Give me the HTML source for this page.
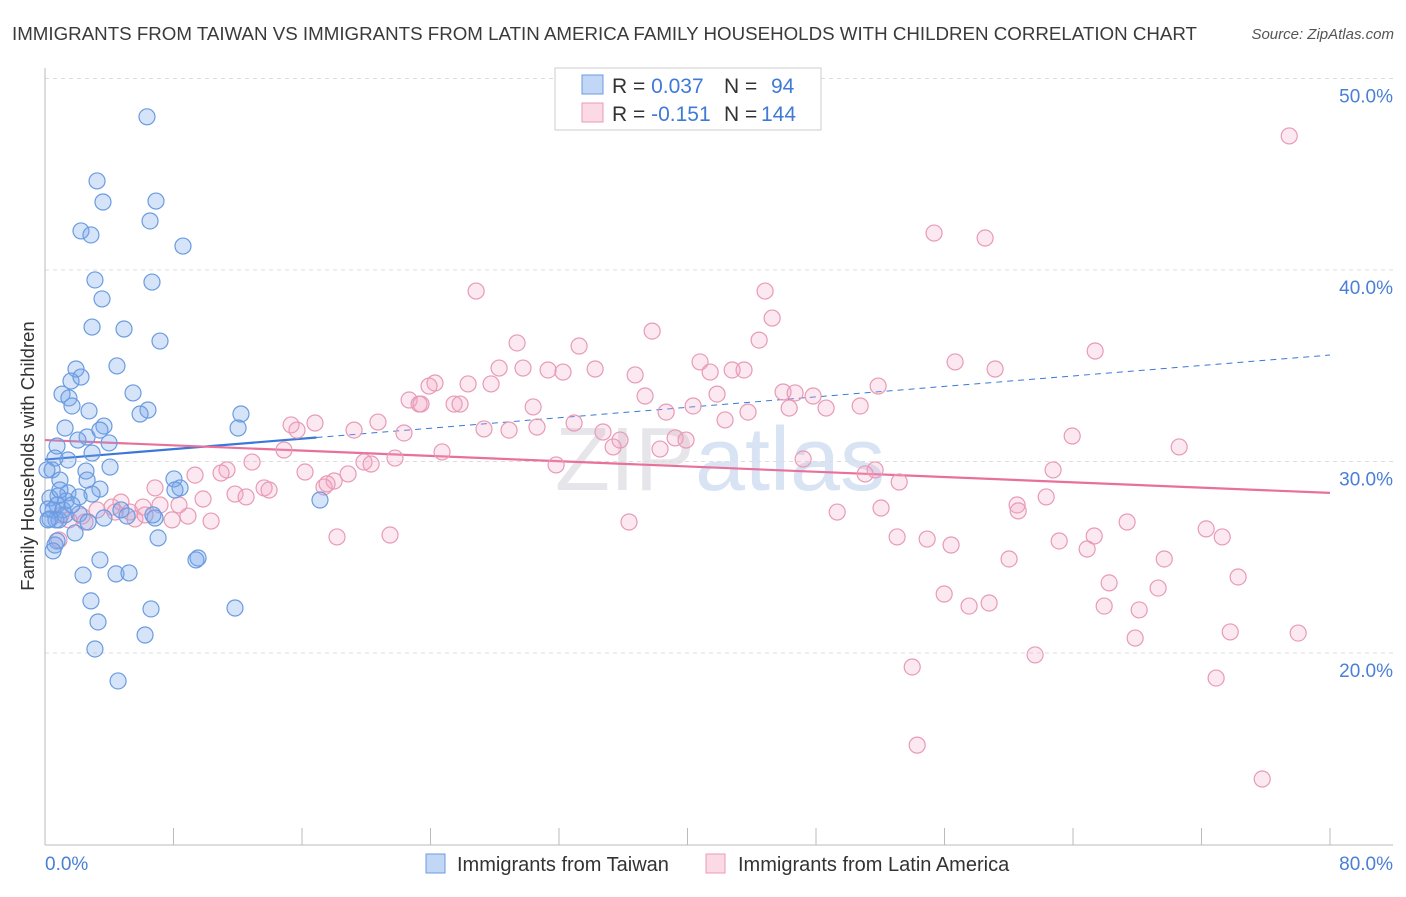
<!DOCTYPE html>
<html><head><meta charset="utf-8"><style>
body{margin:0;background:#fff;font-family:"Liberation Sans",sans-serif;}
svg text{font-family:"Liberation Sans",sans-serif;}
</style></head><body>
<svg id="chart" width="1406" height="892" viewBox="0 0 1406 892" xmlns="http://www.w3.org/2000/svg">
<text x="12" y="40" font-size="18" textLength="1185" lengthAdjust="spacingAndGlyphs" fill="#3a3a3a">IMMIGRANTS FROM TAIWAN VS IMMIGRANTS FROM LATIN AMERICA FAMILY HOUSEHOLDS WITH CHILDREN CORRELATION CHART</text>
<text x="1394" y="39" font-size="15" fill="#555" text-anchor="end" font-style="italic">Source: ZipAtlas.com</text>
<text x="720" y="490" font-size="90" fill="#e6e6ea" text-anchor="middle" font-family="Liberation Serif">ZIP<tspan fill="#d8e4f4" font-family="Liberation Sans">atlas</tspan></text>
<g id="grid"></g>
<g id="axes"></g>
<g id="trends"></g>
<g id="pts"></g>
<text transform="translate(34,456) rotate(-90)" font-size="18.5" fill="#333" text-anchor="middle">Family Households with Children</text>
<g>
<rect x="555" y="68" width="266" height="62" fill="#fff" stroke="#ccc"/>
<rect x="582" y="75" width="21" height="19" fill="rgba(120,165,235,0.45)" stroke="#6a9be0"/>
<rect x="582" y="103" width="21" height="19" fill="rgba(245,160,190,0.4)" stroke="#e89ab5"/>
<text x="612" y="93" font-size="21" fill="#333">R = <tspan fill="#3f7ad6">0.037</tspan><tspan x="724">N = </tspan><tspan x="771" fill="#3f7ad6">94</tspan></text>
<text x="612" y="121" font-size="21" fill="#333">R = <tspan fill="#3f7ad6">-0.151</tspan><tspan x="724">N = </tspan><tspan x="761" fill="#3f7ad6">144</tspan></text>
</g>
<g>
<rect x="426" y="854" width="19" height="19" fill="rgba(120,165,235,0.45)" stroke="#6a9be0"/>
<text x="457" y="871" font-size="20" fill="#333">Immigrants from Taiwan</text>
<rect x="706" y="854" width="19" height="19" fill="rgba(245,160,190,0.4)" stroke="#e89ab5"/>
<text x="738" y="871" font-size="20" fill="#333">Immigrants from Latin America</text>
</g>
</svg>
<script>
const blueX=[6.35,3.24,3.61,6.91,6.54,2.24,2.86,8.59,3.11,6.66,3.55,2.93,4.92,7.16,4.48,1.93,1.62,2.24,1.06,1.49,5.48,1.68,2.74,6.41,5.92,12.2,12.02,1.25,3.67,2.62,3.42,2.05,3.99,0.75,2.93,0.62,1.43,4.05,0.44,2.55,2.62,0.93,8.03,3.42,8.41,1.43,8.09,2.93,0.81,0.31,2.12,1.31,0.75,17.12,0.19,0.5,1.12,2.12,4.73,5.11,6.85,0.31,0.87,6.72,1.87,7.04,0.75,0.62,0.5,3.42,9.53,9.4,2.37,4.42,5.23,2.86,6.6,11.83,3.3,6.23,3.11,4.55,0.68,0.19,1.25,1.68,0.93,2.68,3.67,0.12];
const blueY=[48.0,44.65,43.55,43.6,42.56,42.04,41.83,41.25,39.48,39.37,38.49,37.02,36.92,36.29,34.99,34.83,34.2,34.41,33.52,33.32,33.58,32.9,32.64,32.69,32.48,32.48,31.75,31.75,31.85,31.28,31.64,31.12,30.97,30.81,30.44,30.18,30.08,29.71,29.56,29.5,29.03,29.03,29.09,28.56,28.62,28.36,28.51,28.3,28.2,28.09,28.15,27.94,27.73,27.99,27.52,27.47,27.47,27.26,27.47,27.15,27.05,27.0,26.95,27.21,26.27,26.01,25.85,25.64,25.33,24.86,24.96,24.86,24.07,24.13,24.18,22.72,22.3,22.35,21.62,20.94,20.21,18.54,26.95,26.95,27.21,27.73,28.51,26.84,27.05,29.56];
const pinkX=[77.46,55.35,58.53,26.84,44.83,45.27,37.8,29.39,44.46,33.25,65.38,56.66,40.78,28.27,29.76,31.32,34.25,42.78,59.15,41.41,43.52,36.74,32.25,24.28,23.91,26.34,27.77,51.87,45.95,46.7,47.82,41.84,37.36,22.67,23.29,25.47,25.84,30.39,23.41,40.35,46.33,48.63,50.75,43.77,38.67,42.34,15.32,20.73,16.81,32.94,27.33,28.89,30.63,34.74,22.35,15.69,14.88,63.95,19.24,39.23,35.8,39.91,35.37,24.72,21.79,70.61,38.29,12.89,19.86,20.3,31.82,47.2,11.33,16.19,10.96,9.34,18.87,51.68,62.76,51.06,18.0,53.18,17.37,17.56,6.85,13.64,13.95,11.83,9.84,12.52,8.34,4.73,4.17,3.24,5.29,6.1,7.16,62.33,60.52,8.9,2.3,2.49,1.49,5.6,4.36,1.0,10.34,7.91,6.23,52.05,49.32,60.59,67.37,36.36,72.29,65.32,18.18,21.48,53.05,54.92,56.41,63.14,73.29,64.88,60.02,69.68,0.87,66.25,74.28,55.98,69.3,58.78,57.53,65.94,68.12,73.79,78.02,67.87,61.64,53.99,72.91,54.3,75.78];
const pinkY=[47.0,41.93,41.67,38.9,38.9,37.49,36.81,36.19,36.34,36.03,35.77,35.2,35.2,34.88,34.88,34.78,34.83,34.78,34.83,34.67,34.78,34.52,34.67,34.1,33.94,34.05,34.05,33.94,33.63,33.58,33.42,33.52,33.42,33.21,33.0,33.0,33.0,32.85,33.0,32.9,32.79,32.79,32.9,32.58,32.58,32.17,31.91,32.06,32.01,32.01,31.7,31.64,31.8,31.54,31.49,31.64,30.6,31.33,31.64,31.23,31.12,31.12,30.76,30.5,30.18,30.76,30.65,29.97,29.97,29.87,29.82,30.13,29.56,29.45,29.4,29.29,29.35,29.56,29.56,29.35,28.98,28.93,28.67,28.83,28.62,28.62,28.51,28.3,28.04,28.15,27.73,27.88,27.62,27.47,27.36,27.62,27.73,28.15,27.73,27.15,27.15,26.84,26.95,27.0,27.36,27.21,26.89,26.95,27.21,27.57,27.36,27.42,26.84,26.84,26.48,26.11,26.06,26.16,26.06,25.95,25.64,25.85,26.06,25.43,24.91,24.91,25.9,23.66,23.97,23.08,23.39,22.61,22.45,22.45,22.25,21.1,21.04,20.78,19.9,19.27,18.69,15.19,13.42];
const trendBlue=[30.1,35.56];
const trendPink=[31.12,28.36];
const blueSolidEnd=16.9;
const yTicks=[20,30,40,50];
const yTickLabels=["20.0%","30.0%","40.0%","50.0%"];
const xTicks=[0,8,16,24,32,40,48,56,64,72,80];

const NS="http://www.w3.org/2000/svg";
const X0=45,X1=1330,Y20=653,PXPER=19.15;
const xs=v=>X0+(v/80)*(X1-X0);
const ys=v=>Y20-(v-20)*PXPER;
function mk(tag,attrs,parent){const e=document.createElementNS(NS,tag);for(const k in attrs)e.setAttribute(k,attrs[k]);parent.appendChild(e);return e;}
const grid=document.getElementById('grid'),axes=document.getElementById('axes'),tr=document.getElementById('trends'),pts=document.getElementById('pts');
yTicks.forEach((t,i)=>{
  const l=mk('line',{x1:X0,x2:1393,y1:ys(t),y2:ys(t),stroke:'#dcdcdc','stroke-dasharray':'4,4'},grid);
  
  
  const tx=mk('text',{x:1393,y:ys(t)+24,'font-size':19,fill:'#4a7fd4','text-anchor':'end'},grid);
  tx.textContent=yTickLabels[i];
  
  
});
mk('line',{x1:X0,x2:X0,y1:68,y2:845,stroke:'#bbb'},axes);
mk('line',{x1:X0,x2:1393,y1:845,y2:845,stroke:'#bbb'},axes);
xTicks.forEach(t=>{
  const l=mk('line',{x1:xs(t),x2:xs(t),y1:828,y2:845,stroke:'#bbb'},axes);
  
  
});
const xl0=mk('text',{x:45,y:870,'font-size':19,fill:'#4a7fd4'},axes);xl0.textContent='0.0%';


const xl1=mk('text',{x:1393,y:870,'font-size':19,fill:'#4a7fd4','text-anchor':'end'},axes);xl1.textContent='80.0%';



function drawPts(X,Y,fill,stroke,name){
  X.forEach((x,i)=>{
    const c=mk('circle',{cx:xs(x),cy:ys(Y[i]),r:8,fill:fill,stroke:stroke,'stroke-width':1.2},pts);
    
    
  });
}
drawPts(pinkX,pinkY,'rgba(245,165,195,0.25)','#e89ab5','latin-america-point');
drawPts(blueX,blueY,'rgba(120,165,235,0.3)','#6a9be0','taiwan-point');

const bAt=x=>trendBlue[0]+(trendBlue[1]-trendBlue[0])*x/80;
const b1=mk('line',{x1:xs(0),y1:ys(trendBlue[0]),x2:xs(blueSolidEnd),y2:ys(bAt(blueSolidEnd)),stroke:'#3b78d8','stroke-width':2.2},tr);


const b2=mk('line',{x1:xs(blueSolidEnd),y1:ys(bAt(blueSolidEnd)),x2:xs(80),y2:ys(trendBlue[1]),stroke:'#3b78d8','stroke-width':1,'stroke-dasharray':'6,5'},tr);


const p1=mk('line',{x1:xs(0),y1:ys(trendPink[0]),x2:xs(80),y2:ys(trendPink[1]),stroke:'#e8709a','stroke-width':2.2},tr);


</script>
</body></html>
